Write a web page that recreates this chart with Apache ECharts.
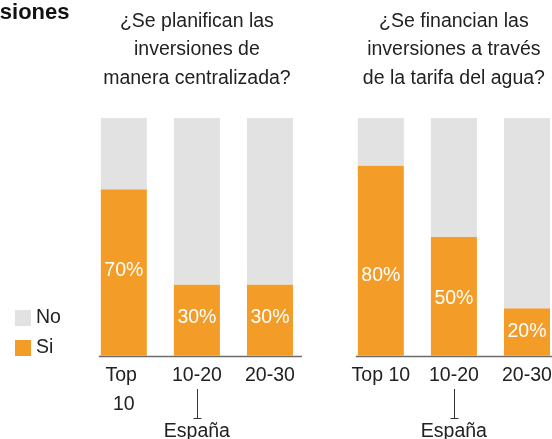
<!DOCTYPE html>
<html>
<head>
<meta charset="utf-8">
<script src="https://cdn.jsdelivr.net/npm/echarts@6/dist/echarts.min.js"></script>
<style>
  html, body { margin: 0; padding: 0; background: #fff; overflow: hidden; }
  #chart { width: 552px; height: 439px; }
</style>
</head>
<body>
<div id="chart"></div>
<script>
// Ranking groups shared by both panels
const categories = ['Top 10', '10-20', '20-30'];

// Panel 1: centralised planning of investments (share of utilities, %)
const planSi = [70, 30, 30];
const planNo = [30, 70, 70];

// Panel 2: investments financed through the water tariff (%)
const finSi = [80, 50, 20];
const finNo = [20, 50, 80];

const panelTitles = [
  '¿Se planifican las\ninversiones de\nmanera centralizada?',
  '¿Se financian las\ninversiones a través\nde la tarifa del agua?'
];
const headline = 'Inversiones';
const spainGroup = '10-20';
const spainLabel = 'España';
const legendNames = ['No', 'Si'];

const FONT = "'Liberation Sans', Arial, Helvetica, sans-serif";
const FS = 19.5;
const INK = '#222';
const ORANGE = '#F39C27';
const GREY = '#E2E2E2';
const BAR_W = 46;

const grids = [
  { left: 87.3, top: 118, width: 219.2, bottom: 83.3, outerBoundsMode: 'none', containLabel: false },
  { left: 344.3, top: 118, width: 219.2, bottom: 83.3, outerBoundsMode: 'none', containLabel: false }
];

// small vertical nudges for the in-bar percentage labels
const labelNudge = [[-2, -2, -2], [15, 2, 0]];

function siSeries(values, idx) {
  return {
    name: 'Si', type: 'bar', stack: 'p' + idx,
    xAxisIndex: idx, yAxisIndex: idx, barWidth: BAR_W,
    itemStyle: { color: ORANGE },
    data: values.map((v, i) => ({ value: v, label: { offset: [0, labelNudge[idx][i]] } })),
    label: {
      show: true, position: 'inside', color: '#fff', fontWeight: 'normal',
      textBorderWidth: 0, fontFamily: FONT, fontSize: FS, formatter: '{c}%'
    }
  };
}
function noSeries(values, idx) {
  return {
    name: 'No', type: 'bar', stack: 'p' + idx,
    xAxisIndex: idx, yAxisIndex: idx, barWidth: BAR_W,
    itemStyle: { color: GREY },
    data: values
  };
}

function xAxisFor(idx) {
  const axisLabel = {
    interval: 0, color: INK, fontFamily: FONT, fontSize: FS,
    lineHeight: 29, margin: 5, hideOverlap: false
  };
  if (idx === 0) { axisLabel.width = 50; axisLabel.overflow = 'break'; }
  return {
    type: 'category', gridIndex: idx, data: categories,
    axisLine: { show: false }, axisTick: { show: false }, axisLabel
  };
}

const chart = echarts.init(document.getElementById('chart'), null, { renderer: 'canvas' });

chart.setOption({
  animation: false,
  color: [GREY, ORANGE],
  grid: grids,
  xAxis: [xAxisFor(0), xAxisFor(1)],
  yAxis: [0, 1].map(i => ({ type: 'value', gridIndex: i, min: 0, max: 100, show: false })),
  legend: {
    data: legendNames, orient: 'vertical', left: 10, top: 303,
    icon: 'rect', itemWidth: 16, itemHeight: 16, itemGap: 10,
    textStyle: { color: INK, fontFamily: FONT, fontSize: FS }
  },
  series: [
    siSeries(planSi, 0), noSeries(planNo, 0),
    siSeries(finSi, 1), noSeries(finNo, 1)
  ]
});

// Decorations placed from the axes' own pixel mapping
const graphics = [{
  type: 'text', x: 69.5, y: 2,
  style: { text: headline, textAlign: 'right', textVerticalAlign: 'top',
           fill: '#111', font: 'bold 22px ' + FONT }
}];

[0, 1].forEach(idx => {
  const first = chart.convertToPixel({ gridIndex: idx }, [categories[0], 0]);
  const last = chart.convertToPixel({ gridIndex: idx }, [categories[categories.length - 1], 0]);
  const mid = chart.convertToPixel({ gridIndex: idx }, [spainGroup, 0]);
  const g = grids[idx];
  const cx = g.left + g.width / 2;
  const baseY = Math.round(first[1]) + 0.5;

  graphics.push({
    type: 'line', silent: true,
    shape: { x1: first[0] - BAR_W / 2 - 2, y1: baseY, x2: last[0] + BAR_W / 2 + 9, y2: baseY },
    style: { stroke: '#6b6b6b', lineWidth: 1.5 }
  });
  graphics.push({
    type: 'text', x: cx, y: 7,
    style: { text: panelTitles[idx], textAlign: 'center', textVerticalAlign: 'top',
             fill: INK, font: FS + 'px ' + FONT, lineHeight: 28.5 }
  });
  const mx = Math.round(mid[0]) + 0.5;
  graphics.push({
    type: 'polyline', silent: true,
    shape: { points: [[mx, 389], [mx, 418]] },
    style: { stroke: '#333', lineWidth: 1 }
  });
  graphics.push({
    type: 'line', silent: true,
    shape: { x1: mx - 4, y1: 418.5, x2: mx + 4, y2: 418.5 },
    style: { stroke: '#333', lineWidth: 1 }
  });
  graphics.push({
    type: 'text', x: mid[0], y: 422,
    style: { text: spainLabel, textAlign: 'center', textVerticalAlign: 'top',
             fill: INK, font: FS + 'px ' + FONT }
  });
});

chart.setOption({ graphic: graphics });
</script>
</body>
</html>
